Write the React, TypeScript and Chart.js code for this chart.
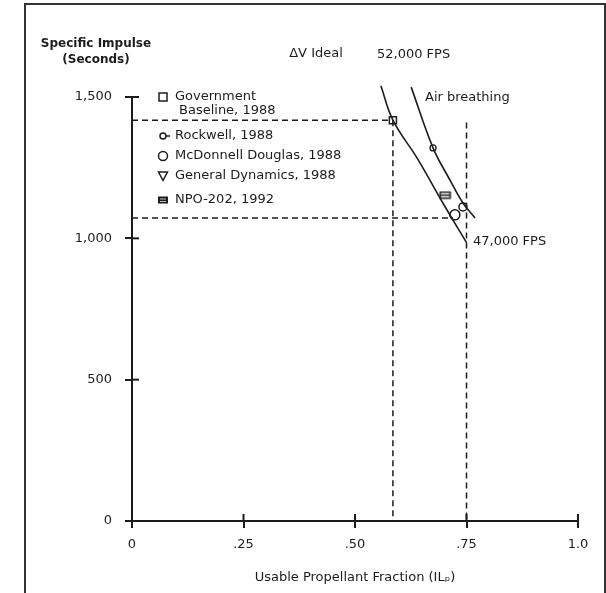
import React, { useEffect, useRef } from "react";
import { Chart, registerables } from "chart.js";

Chart.register(...registerables);

// ---- data ----
const idealX = [0.558, 0.585, 0.640, 0.700, 0.750];
const idealY = [1540, 1418, 1282, 1117, 985];

const airX = [0.626, 0.675, 0.713, 0.742, 0.769];
const airY = [1535, 1320, 1206, 1125, 1072];

const govPoint = { x: 0.585, y: 1418 };
const rockwellPoint = { x: 0.675, y: 1320 };
const npoPoint = { x: 0.702, y: 1153 };
const mdX = [0.724, 0.742];
const mdY = [1083, 1111];
const mdR = [5, 4];

const guide1X = [0, 0.585];
const guide1Y = [1418, 1418];
const guide2X = [0.585, 0.585];
const guide2Y = [1418, 0];
const guide3X = [0, 0.72];
const guide3Y = [1072, 1072];
const guide4X = [0.75, 0.75];
const guide4Y = [1410, 0];

const xTickValues = [0, 0.25, 0.5, 0.75, 1.0];
const xTickLabels = ["0", ".25", ".50", ".75", "1.0"];
const yTickValues = [0, 500, 1000, 1500];
const yTickLabels = ["0", "500", "1,000", "1,500"];

const legendLabels = [
  ["Government", "Baseline, 1988"],
  ["Rockwell, 1988"],
  ["McDonnell Douglas, 1988"],
  ["General Dynamics, 1988"],
  ["NPO-202, 1992"],
];

const xTitle = "Usable Propellant Fraction (IL\u209A)";
const yTitle1 = "Specific Impulse";
const yTitle2 = "(Seconds)";
const noteIdeal = "\u0394V Ideal";
const note52 = "52,000 FPS";
const noteAir = "Air breathing";
const note47 = "47,000 FPS";

const FONT = '"DejaVu Sans", "Liberation Sans", Arial, sans-serif';
const INK = "#1c1c1c";

const zip = (xs: number[], ys: number[]) => xs.map((x, i) => ({ x, y: ys[i] }));

function makeNpoCanvas() {
  const c = document.createElement("canvas");
  c.width = 13;
  c.height = 9;
  const g = c.getContext("2d")!;
  g.strokeStyle = INK;
  g.lineWidth = 1.5;
  g.strokeRect(1.5, 1.5, 10, 6);
  g.beginPath();
  g.moveTo(2, 4.5);
  g.lineTo(11, 4.5);
  g.stroke();
  return c;
}

const decorPlugin = {
  id: "decor",
  afterDraw(chart: any) {
    const ctx = chart.ctx as CanvasRenderingContext2D;
    const xs = chart.scales.x;
    const ys = chart.scales.y;
    ctx.save();
    // inward tick marks (crossing ticks)
    ctx.strokeStyle = INK;
    ctx.lineWidth = 2;
    xTickValues.forEach((v) => {
      const px = xs.getPixelForValue(v);
      ctx.beginPath();
      ctx.moveTo(px, ys.bottom);
      ctx.lineTo(px, ys.bottom - 7);
      ctx.stroke();
    });
    yTickValues.forEach((v) => {
      const py = ys.getPixelForValue(v);
      ctx.beginPath();
      ctx.moveTo(xs.left, py);
      ctx.lineTo(xs.left + 7, py);
      ctx.stroke();
    });

    ctx.fillStyle = INK;
    ctx.textBaseline = "middle";
    // y title
    ctx.font = `bold 12px ${FONT}`;
    ctx.textAlign = "center";
    ctx.fillText(yTitle1, 96, 44);
    ctx.fillText(yTitle2, 96, 60);

    // notes
    ctx.font = `13px ${FONT}`;
    ctx.fillText(noteIdeal, 316, 54);
    ctx.textAlign = "left";
    ctx.fillText(note52, 377, 55);
    ctx.fillText(noteAir, 425, 98);
    ctx.fillText(note47, 473, 242);

    // legend
    const mx = 163;
    const tx = 175;
    const rows = [97, 136, 156, 176, 200];
    ctx.font = `13px ${FONT}`;
    ctx.textAlign = "left";
    legendLabels.forEach((lines, i) => {
      lines.forEach((t, j) => ctx.fillText(t, tx + (j ? 4 : 0), rows[i] + j * 14));
    });
    ctx.lineWidth = 1.5;
    ctx.strokeStyle = INK;
    // square
    ctx.strokeRect(mx - 4, rows[0] - 4, 8, 8);
    // rockwell circle with tail
    ctx.beginPath();
    ctx.arc(mx, rows[1], 3, 0, Math.PI * 2);
    ctx.stroke();
    ctx.beginPath();
    ctx.moveTo(mx + 3, rows[1]);
    ctx.lineTo(mx + 7, rows[1]);
    ctx.stroke();
    // mcdonnell circle
    ctx.beginPath();
    ctx.arc(mx, rows[2], 4.5, 0, Math.PI * 2);
    ctx.stroke();
    // GD inverted triangle
    ctx.beginPath();
    ctx.moveTo(mx - 4.5, rows[3] - 4);
    ctx.lineTo(mx + 4.5, rows[3] - 4);
    ctx.lineTo(mx, rows[3] + 4.5);
    ctx.closePath();
    ctx.stroke();
    // NPO filled rect
    ctx.fillRect(mx - 5, rows[4] - 3.5, 10, 7);
    ctx.strokeStyle = "#bbb";
    ctx.lineWidth = 1;
    ctx.beginPath();
    ctx.moveTo(mx - 3, rows[4] - 1);
    ctx.lineTo(mx + 3, rows[4] - 1);
    ctx.moveTo(mx - 3, rows[4] + 1.5);
    ctx.lineTo(mx + 3, rows[4] + 1.5);
    ctx.stroke();
    ctx.restore();
  },
};

export default function App() {
  const ref = useRef<HTMLCanvasElement | null>(null);

  useEffect(() => {
    if (!ref.current) return;
    const npoCanvas = makeNpoCanvas();
    const dashed = (xs: number[], ys: number[]) => ({
      data: zip(xs, ys),
      showLine: true,
      borderColor: INK,
      borderWidth: 1.5,
      borderDash: [6, 4],
      pointRadius: 0,
      fill: false,
    });
    const curve = (xs: number[], ys: number[]) => ({
      data: zip(xs, ys),
      showLine: true,
      borderColor: INK,
      borderWidth: 1.6,
      pointRadius: 0,
      tension: 0.4,
      clip: false,
      fill: false,
    });
    const chart = new Chart(ref.current, {
      type: "scatter",
      data: {
        datasets: [
          dashed(guide1X, guide1Y),
          dashed(guide2X, guide2Y),
          dashed(guide3X, guide3Y),
          dashed(guide4X, guide4Y),
          curve(idealX, idealY),
          curve(airX, airY),
          {
            data: [govPoint],
            pointStyle: "rect",
            pointRadius: 5,
            pointBackgroundColor: "#fff",
            pointBorderColor: INK,
            pointBorderWidth: 1.5,
          },
          {
            data: [rockwellPoint],
            pointStyle: "circle",
            pointRadius: 3,
            pointBackgroundColor: "#fff",
            pointBorderColor: INK,
            pointBorderWidth: 1.3,
          },
          {
            data: [npoPoint],
            pointStyle: npoCanvas as any,
          },
          {
            data: zip(mdX, mdY),
            pointStyle: "circle",
            pointRadius: mdR,
            pointBackgroundColor: "#fff",
            pointBorderColor: INK,
            pointBorderWidth: 1.5,
          },
        ] as any,
      },
      options: {
        animation: false,
        responsive: false,
        devicePixelRatio: 1,
        layout: { padding: { left: 0, top: 97, right: 28, bottom: 0 } },
        plugins: { legend: { display: false }, tooltip: { enabled: false } },
        scales: {
          x: {
            type: "linear",
            min: 0,
            max: 1,
            afterFit: (s: any) => {
              s.height = 72;
            },
            afterBuildTicks: (s: any) => {
              s.ticks = xTickValues.map((v) => ({ value: v }));
            },
            ticks: {
              color: INK,
              font: { family: FONT, size: 13 },
              padding: 9,
              maxRotation: 0,
              autoSkip: false,
              callback: (v: any) => {
                const i = xTickValues.indexOf(Number(v));
                return i >= 0 ? xTickLabels[i] : "";
              },
            },
            grid: { drawOnChartArea: false, tickLength: 7, color: INK, lineWidth: 2 },
            border: { display: true, color: INK, width: 2 },
            title: {
              display: true,
              text: xTitle,
              color: INK,
              font: { family: FONT, size: 13 },
              padding: { top: 0, bottom: 8 },
            },
          },
          y: {
            type: "linear",
            min: 0,
            max: 1500,
            afterFit: (s: any) => {
              s.width = 132;
            },
            afterBuildTicks: (s: any) => {
              s.ticks = yTickValues.map((v) => ({ value: v }));
            },
            ticks: {
              color: INK,
              font: { family: FONT, size: 13 },
              padding: 13,
              autoSkip: false,
              callback: (v: any) => {
                const i = yTickValues.indexOf(Number(v));
                return i >= 0 ? yTickLabels[i] : "";
              },
            },
            grid: { drawOnChartArea: false, tickLength: 7, color: INK, lineWidth: 2 },
            border: { display: true, color: INK, width: 2 },
          },
        },
      },
      plugins: [decorPlugin],
    });
    return () => chart.destroy();
  }, []);

  return (
    <div style={{ position: "fixed", left: 0, top: 0, width: 606, height: 593, overflow: "hidden", background: "#fff" }}>
      <div
        style={{
          position: "absolute",
          left: 24,
          top: 3,
          width: 578,
          height: 600,
          borderLeft: "2px solid #333",
          borderTop: "2px solid #333",
          borderRight: "2px solid #333",
        }}
      />
      <canvas
        ref={ref}
        width={606}
        height={593}
        style={{ position: "absolute", left: 0, top: 0, width: 606, height: 593 }}
      />
    </div>
  );
}
